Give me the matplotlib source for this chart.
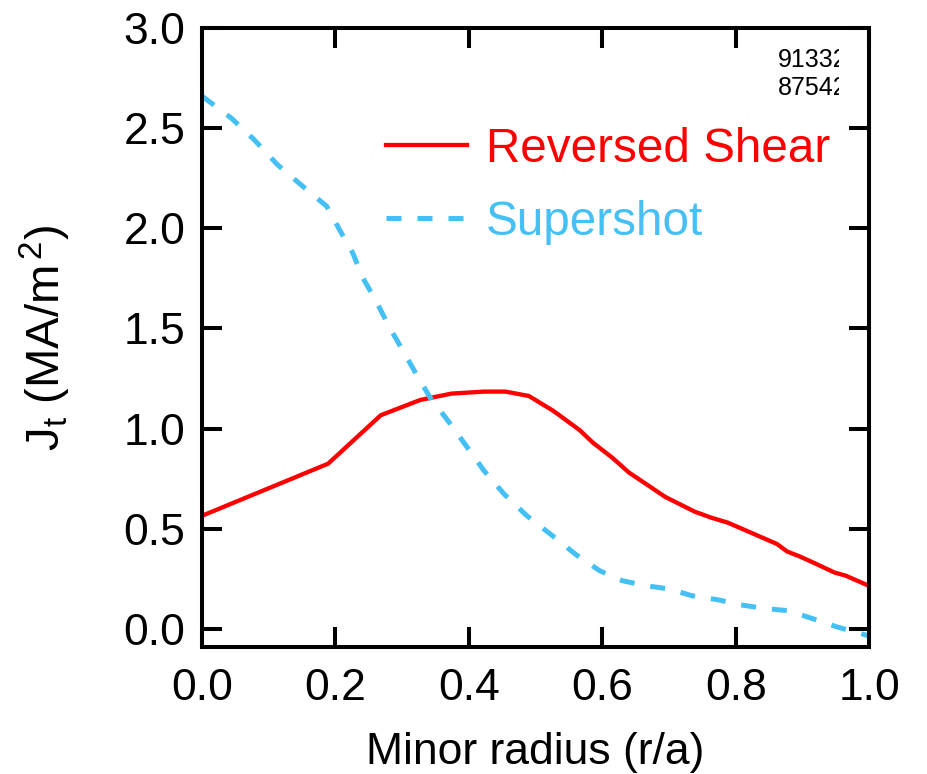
import numpy as np
import matplotlib
matplotlib.use("Agg")
from matplotlib import pyplot as plt
from matplotlib.transforms import Bbox, TransformedBbox

plt.rcParams['font.family'] = ['Liberation Sans', 'DejaVu Sans']
plt.rcParams['mathtext.fontset'] = 'custom'
plt.rcParams['mathtext.rm'] = 'Liberation Sans'
plt.rcParams['mathtext.it'] = 'Liberation Sans'

# Reversed shear profile
rs_r = [0.0, 0.189, 0.268, 0.327, 0.374, 0.423, 0.455, 0.490, 0.527, 0.566,
        0.586, 0.615, 0.640, 0.670, 0.694, 0.739, 0.763, 0.788, 0.822, 0.862,
        0.877, 0.896, 0.916, 0.948, 0.965, 1.0]
rs_j = [0.565, 0.825, 1.067, 1.143, 1.175, 1.185, 1.185, 1.163, 1.088, 0.993,
        0.930, 0.855, 0.781, 0.714, 0.660, 0.585, 0.556, 0.531, 0.482, 0.424,
        0.387, 0.362, 0.332, 0.282, 0.266, 0.215]

# Supershot profile
ss_r = [0.0, 0.044, 0.078, 0.113, 0.147, 0.187, 0.206, 0.226, 0.241, 0.261,
        0.280, 0.300, 0.320, 0.342, 0.367, 0.396, 0.423, 0.453, 0.487, 0.522,
        0.561, 0.596, 0.630, 0.665, 0.702, 0.734, 0.773, 0.808, 0.842, 0.879,
        0.914, 0.951, 1.0]
ss_j = [2.66, 2.55, 2.443, 2.318, 2.221, 2.11, 1.994, 1.877, 1.753, 1.637,
        1.512, 1.396, 1.279, 1.155, 1.047, 0.914, 0.789, 0.673, 0.565, 0.474,
        0.37, 0.291, 0.241, 0.216, 0.199, 0.166, 0.146, 0.120, 0.103, 0.091,
        0.053, 0.011, -0.035]

shots = ['91332', '87542']

fig = plt.figure(figsize=(9.28, 7.74), dpi=100)
ax = fig.add_axes([0.2177, 0.1641, 0.7188, 0.7997])

ax.plot(rs_r, rs_j, color='#ff0000', lw=3.1, label='Reversed Shear')
ax.plot(ss_r, ss_j, color='#45c0f5', lw=3.6, dashes=(3.0, 3.2), label='Supershot')

ax.set_xlim(0, 1)
ax.set_ylim(-0.09, 3.0)
ax.set_xticks(np.arange(0, 1.01, 0.2))
ax.set_yticks(np.arange(0, 3.01, 0.5))
ax.xaxis.set_major_formatter(matplotlib.ticker.FormatStrFormatter('%.1f'))
ax.yaxis.set_major_formatter(matplotlib.ticker.FormatStrFormatter('%.1f'))
ax.tick_params(direction='in', length=14.4, width=2.9, labelsize=32,
               top=True, right=True)
ax.tick_params(axis='x', pad=15)
ax.tick_params(axis='y', pad=12)
for s in ax.spines.values():
    s.set_linewidth(2.9)

ax.set_xlabel('Minor radius (r/a)', fontsize=32, labelpad=17)
ax.set_ylabel(r'J$_\mathregular{t}$ (MA/m$^\mathregular{\,2}$)', fontsize=34, labelpad=36)

leg = ax.legend(loc='upper left', bbox_to_anchor=(0.276, 0.84), frameon=False,
                fontsize=34.3, handlelength=1.7, handletextpad=0.4,
                labelspacing=0.58, borderpad=0, borderaxespad=0,
                labelcolor='linecolor')

# shot numbers, clipped at the right like the original
t = ax.text(0.968, 0.968, '\n'.join(shots), transform=ax.transAxes, ha='right',
            va='top', fontsize=18, linespacing=1.2)
t.set_clip_box(TransformedBbox(Bbox([[0, 0], [0.955, 1]]), ax.transAxes))
t.set_clip_on(True)

fig.savefig('out.png', dpi=100)
